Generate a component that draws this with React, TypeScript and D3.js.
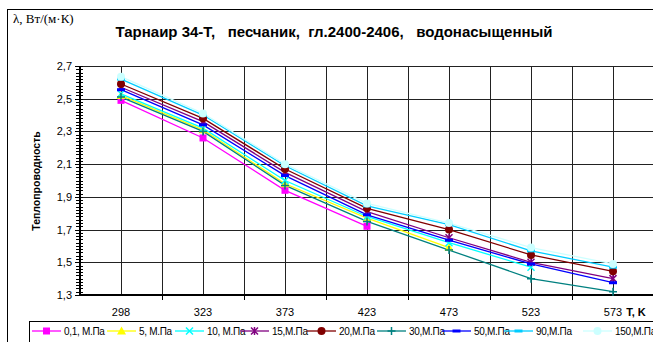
import React, { useRef, useEffect } from 'react';
import * as d3 from 'd3';

// temperatures, K
const categories = ['298', '323', '373', '423', '473', '523', '573'];

// thermal conductivity by pressure, W/(m*K)
const p01 = [2.49, 2.26, 1.94, 1.72];
const p5 = [2.52, 2.31, 1.98, 1.77, 1.59];
const p10 = [2.53, 2.32, 2.0, 1.78, 1.62, 1.47];
const p15 = [2.57, 2.36, 2.05, 1.81, 1.65, 1.5, 1.4];
const p20 = [2.59, 2.38, 2.07, 1.83, 1.7, 1.545, 1.445];
const p30 = [2.51, 2.3, 1.97, 1.75, 1.575, 1.4, 1.32];
const p50 = [2.555, 2.34, 2.03, 1.79, 1.635, 1.49, 1.375];
const p90 = [2.62, 2.4, 2.09, 1.845, 1.73, 1.57, 1.47];
const p150 = [2.635, 2.41, 2.1, 1.86, 1.74, 1.59, 1.49];

const seriesNames = ['0,1, М.Па', '5, М.Па', '10, М.Па', '15,М.Па', '20,М.Па', '30,М.Па', '50,М.Па', '90,М.Па', '150,М.Па'];
const yTicks = [1.3, 1.5, 1.7, 1.9, 2.1, 2.3, 2.5, 2.7];

const seriesValues = [p01, p5, p10, p15, p20, p30, p50, p90, p150];
const colors = ['#ff00ff', '#ffff00', '#00ffff', '#800080', '#800000', '#008080', '#0000ff', '#00ccff', '#ccffff'];
const markers = ['square', 'triangle', 'x', 'star', 'circle', 'plus', 'dash', 'dash', 'circle'];

const drawMarker = (g, type, color) => {
  if (type === 'square') {
    g.append('rect').attr('x', -3.5).attr('y', -3.5).attr('width', 7).attr('height', 7).attr('fill', color);
  } else if (type === 'triangle') {
    g.append('path').attr('d', 'M0,-4.5L4.5,3.5L-4.5,3.5Z').attr('fill', color);
  } else if (type === 'circle') {
    g.append('circle').attr('r', 4).attr('fill', color);
  } else if (type === 'x') {
    g.append('path').attr('d', 'M-3.5,-3.5L3.5,3.5M-3.5,3.5L3.5,-3.5').attr('stroke', color).attr('stroke-width', 1.5);
  } else if (type === 'star') {
    g.append('path').attr('d', 'M-3.5,-3.5L3.5,3.5M-3.5,3.5L3.5,-3.5M0,-4L0,4').attr('stroke', color).attr('stroke-width', 1.5);
  } else if (type === 'plus') {
    g.append('path').attr('d', 'M-4,0L4,0M0,-4L0,4').attr('stroke', color).attr('stroke-width', 1.5);
  } else if (type === 'dash') {
    g.append('rect').attr('x', -4).attr('y', -1.5).attr('width', 8).attr('height', 3).attr('fill', color);
  }
};

const App = () => {
  const svgRef = useRef(null);

  useEffect(() => {
    const svg = d3.select(svgRef.current);
    svg.selectAll('*').remove();

    const left = 80, right = 654, top = 66, bottom = 295;

    const x = d3.scaleBand().domain(categories).range([left, right]).padding(0);
    const y = d3.scaleLinear().domain([1.3, 2.7]).range([bottom, top]);
    const cx = d => x(d) + x.bandwidth() / 2;

    // outer frame
    svg.append('rect')
      .attr('x', 7.5).attr('y', 9.5)
      .attr('width', 660).attr('height', 340)
      .attr('fill', 'white').attr('stroke', '#000');

    // grid
    const grid = svg.append('g').attr('stroke', '#222').attr('stroke-width', 1);
    categories.forEach((c, i) => {
      if (i > 0) {
        grid.append('line').attr('x1', Math.round(x(c)) + 0.5).attr('x2', Math.round(x(c)) + 0.5).attr('y1', top).attr('y2', bottom);
      }
      grid.append('line').attr('x1', Math.round(cx(c)) + 0.5).attr('x2', Math.round(cx(c)) + 0.5).attr('y1', top).attr('y2', bottom);
    });
    yTicks.forEach(t => {
      grid.append('line').attr('x1', left).attr('x2', right).attr('y1', Math.round(y(t)) + 0.5).attr('y2', Math.round(y(t)) + 0.5);
    });

    // y axis with minor ticks
    const axis = svg.append('g').attr('stroke', '#000');
    axis.append('line').attr('x1', left).attr('x2', left).attr('y1', top).attr('y2', bottom).attr('stroke-width', 2);
    d3.range(0, 71).forEach(i => {
      const v = 1.3 + i * 0.02;
      const yy = Math.round(y(v)) + 0.5;
      const major = i % 10 === 0;
      axis.append('line').attr('x1', left - (major ? 5 : 4)).attr('x2', left + 3).attr('y1', yy).attr('y2', yy).attr('stroke-width', 1);
    });
    yTicks.forEach(t => {
      svg.append('text')
        .attr('x', 72).attr('y', y(t) + 4)
        .attr('text-anchor', 'end')
        .attr('font-family', 'Liberation Sans, Arial, sans-serif')
        .attr('font-size', 11)
        .text(d3.format('.1f')(t).replace('.', ','));
    });

    // x axis
    axis.append('line').attr('x1', left).attr('x2', right).attr('y1', bottom).attr('y2', bottom).attr('stroke-width', 2);
    categories.forEach((c, i) => {
      if (i > 0) {
        const xx = Math.round(x(c)) + 0.5;
        axis.append('line').attr('x1', xx).attr('x2', xx).attr('y1', bottom).attr('y2', bottom + 5);
      }
      svg.append('text')
        .attr('x', cx(c)).attr('y', 316)
        .attr('text-anchor', 'middle')
        .attr('font-family', 'Liberation Sans, Arial, sans-serif')
        .attr('font-size', 11)
        .text(c);
    });

    // series
    const line = d3.line().x((d, i) => cx(categories[i])).y(d => y(d));
    seriesValues.forEach((vals, s) => {
      svg.append('path')
        .datum(vals)
        .attr('d', line)
        .attr('fill', 'none')
        .attr('stroke', colors[s])
        .attr('stroke-width', 1.3);
    });
    seriesValues.forEach((vals, s) => {
      vals.forEach((v, i) => {
        const g = svg.append('g').attr('transform', `translate(${cx(categories[i])},${y(v)})`);
        drawMarker(g, markers[s], colors[s]);
      });
    });

    // titles
    svg.append('text')
      .attr('x', 13).attr('y', 23)
      .attr('font-family', 'Liberation Serif, Times New Roman, serif')
      .attr('font-size', 13)
      .text('λ, Вт/(м·К)');
    svg.append('text')
      .attr('x', 334).attr('y', 37)
      .attr('text-anchor', 'middle')
      .attr('font-family', 'Liberation Sans, Arial, sans-serif')
      .attr('font-size', 15)
      .attr('font-weight', 'bold')
      .attr('xml:space', 'preserve')
      .text('Тарнаир 34-Т,   песчаник,  гл.2400-2406,   водонасыщенный');
    svg.append('text')
      .attr('transform', 'translate(40,181) rotate(-90)')
      .attr('text-anchor', 'middle')
      .attr('font-family', 'Liberation Sans, Arial, sans-serif')
      .attr('font-size', 10.5)
      .attr('font-weight', 'bold')
      .text('Теплопроводность');
    svg.append('text')
      .attr('x', 636).attr('y', 316)
      .attr('text-anchor', 'middle')
      .attr('font-family', 'Liberation Sans, Arial, sans-serif')
      .attr('font-size', 11)
      .attr('font-weight', 'bold')
      .text('T, K');

    // legend
    const legendX = [32, 107, 175, 240, 307, 377, 442, 504, 583];
    const ly = 331;
    svg.append('rect')
      .attr('x', 29.5).attr('y', 321.5)
      .attr('width', 640).attr('height', 30)
      .attr('fill', 'white').attr('stroke', '#000');
    seriesNames.forEach((name, s) => {
      const lx = legendX[s];
      svg.append('line')
        .attr('x1', lx).attr('x2', lx + 29).attr('y1', ly).attr('y2', ly)
        .attr('stroke', colors[s]).attr('stroke-width', 1.3);
      const g = svg.append('g').attr('transform', `translate(${lx + 14.5},${ly})`);
      drawMarker(g, markers[s], colors[s]);
      svg.append('text')
        .attr('x', lx + 32).attr('y', ly + 3.5)
        .attr('font-family', 'Liberation Sans, Arial, sans-serif')
        .attr('font-size', 10)
        .attr('letter-spacing', -0.3)
        .text(name);
    });
  }, []);

  return <svg ref={svgRef} width={653} height={342} style={{ position: 'absolute', left: 0, top: 0 }} />;
};

export default App;
